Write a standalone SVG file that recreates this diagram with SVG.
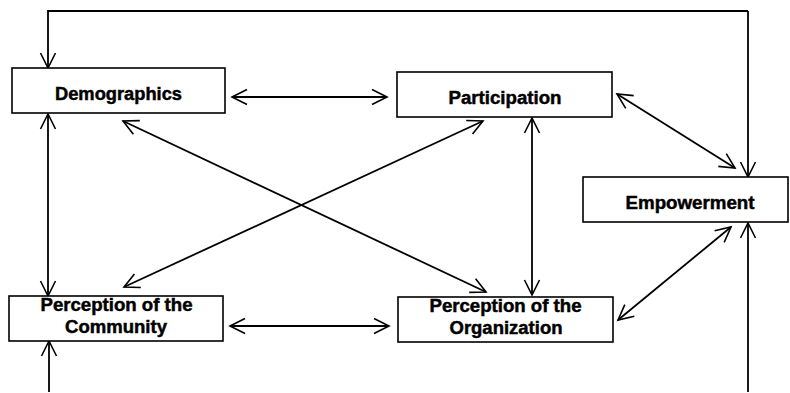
<svg xmlns="http://www.w3.org/2000/svg" width="790" height="393" viewBox="0 0 790 393">
<style>
.box{fill:#fff;stroke:#000;stroke-width:1.6}
.lbl{font-family:"Liberation Sans",Arial,sans-serif;font-weight:bold;font-size:17.5px;fill:#000;stroke:#000;stroke-width:0.45;text-anchor:middle}
.ln{fill:none;stroke:#000;stroke-width:1.8}
.one{marker-end:url(#ah)}
.two{marker-start:url(#ah);marker-end:url(#ah)}
</style>
<defs>
<marker id="ah" markerUnits="userSpaceOnUse" markerWidth="20" markerHeight="20" viewBox="0 0 20 20" refX="17" refY="10" orient="auto-start-reverse">
<path d="M2,2.5 L17,10 L2,17.5" fill="none" stroke="#000" stroke-width="1.6"/>
</marker>
</defs>
<rect width="790" height="393" fill="#fff"/>
<g id="connectors">
<polyline class="ln one" points="748,392 748,223"/>
<polyline class="ln one" points="748,11 748,177"/>
<polyline class="ln one" points="748,11 48,11 48,68"/>
<line class="ln one" x1="49" y1="392" x2="49" y2="341"/>
<line class="ln two" x1="48" y1="114" x2="48" y2="296"/>
<line class="ln two" x1="532" y1="118" x2="532" y2="295"/>
<line class="ln two" x1="232" y1="97" x2="387" y2="97"/>
<line class="ln two" x1="230" y1="326" x2="389" y2="326"/>
<line class="ln two" x1="123" y1="121" x2="486" y2="292"/>
<line class="ln two" x1="483" y1="121" x2="124" y2="287"/>
<line class="ln two" x1="617" y1="94" x2="735" y2="168"/>
<line class="ln two" x1="618" y1="320" x2="731" y2="227"/>
</g>
<g id="demographics">
<rect class="box" x="12" y="68" width="213" height="45"/>
<text class="lbl" x="118.5" y="99.5" textLength="127" lengthAdjust="spacingAndGlyphs">Demographics</text>
</g>
<g id="participation">
<rect class="box" x="397" y="72" width="215" height="45"/>
<text class="lbl" x="505" y="104" textLength="113" lengthAdjust="spacingAndGlyphs">Participation</text>
</g>
<g id="empowerment">
<rect class="box" x="583" y="177" width="205" height="45"/>
<text class="lbl" x="690" y="208.5" textLength="129" lengthAdjust="spacingAndGlyphs">Empowerment</text>
</g>
<g id="community">
<rect class="box" x="9" y="296" width="214" height="45"/>
<text class="lbl" x="116.5" y="310.5" textLength="152" lengthAdjust="spacingAndGlyphs">Perception of the</text>
<text class="lbl" x="116" y="332.5" textLength="102" lengthAdjust="spacingAndGlyphs">Community</text>
</g>
<g id="organization">
<rect class="box" x="398" y="297" width="215" height="45"/>
<text class="lbl" x="505.5" y="312" textLength="152" lengthAdjust="spacingAndGlyphs">Perception of the</text>
<text class="lbl" x="506" y="333.5" textLength="113" lengthAdjust="spacingAndGlyphs">Organization</text>
</g>
</svg>
